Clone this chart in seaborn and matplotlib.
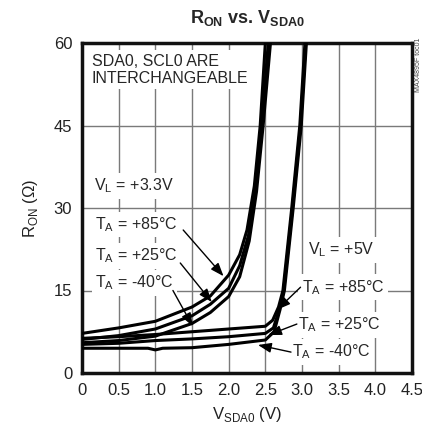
import matplotlib
matplotlib.use('Agg')
import matplotlib.pyplot as plt
import seaborn as sns
import pandas as pd

sns.set_style('white')
plt.rcParams['font.family'] = ['Liberation Sans', 'DejaVu Sans']
plt.rcParams['mathtext.fontset'] = 'custom'
plt.rcParams['mathtext.rm'] = 'Liberation Sans'
plt.rcParams['mathtext.bf'] = 'Liberation Sans:bold'

# VL = +3.3V curves
v33_85 = [0, 0.5, 1.0, 1.5, 1.75, 2.0, 2.15, 2.25, 2.35, 2.43, 2.5]
r33_85 = [7.2, 8.2, 9.4, 12.0, 14.0, 17.8, 21.5, 26, 34, 45, 60]
v33_25 = [0, 0.5, 1.0, 1.5, 1.75, 2.0, 2.15, 2.27, 2.36, 2.45, 2.54]
r33_25 = [6.1, 6.8, 8.0, 10.4, 12.5, 15.4, 19.5, 25, 33, 45, 60]
v33_m40 = [0, 0.5, 1.0, 1.5, 1.75, 2.0, 2.15, 2.28, 2.38, 2.47, 2.57]
r33_m40 = [5.5, 5.9, 6.7, 9.0, 11.0, 13.9, 17.5, 24, 33, 45, 60]

# VL = +5V curves
v5_85 = [0, 0.5, 1.0, 1.5, 2.0, 2.5, 2.6, 2.68, 2.74, 2.86, 2.97, 3.04]
r5_85 = [6.3, 6.6, 7.0, 7.5, 8.0, 8.5, 9.6, 12, 15, 30, 45, 60]
v5_25 = [0, 0.5, 1.0, 1.5, 2.0, 2.5, 2.61, 2.69, 2.75, 2.87, 2.98, 3.05]
r5_25 = [5.2, 5.4, 5.9, 6.2, 6.6, 7.2, 8.2, 11.5, 15, 30, 45, 60]
v5_m40 = [0, 0.5, 0.9, 1.0, 1.1, 1.5, 2.0, 2.5, 2.62, 2.7, 2.76, 2.88, 2.99, 3.06]
r5_m40 = [4.5, 4.5, 4.5, 4.2, 4.5, 4.6, 5.2, 6.0, 7.5, 11.5, 15, 30, 45, 60]

curves = {
    '3.3V 85C': (v33_85, r33_85),
    '3.3V 25C': (v33_25, r33_25),
    '3.3V -40C': (v33_m40, r33_m40),
    '5V 85C': (v5_85, r5_85),
    '5V 25C': (v5_25, r5_25),
    '5V -40C': (v5_m40, r5_m40),
}
rows = []
for name, (vs, rs) in curves.items():
    for v, r in zip(vs, rs):
        rows.append({'v': v, 'r': r, 'curve': name})
df = pd.DataFrame(rows)

x_ticks = [0, 0.5, 1.0, 1.5, 2.0, 2.5, 3.0, 3.5, 4.0, 4.5]
x_labels = ['0', '0.5', '1.0', '1.5', '2.0', '2.5', '3.0', '3.5', '4.0', '4.5']
y_ticks = [0, 15, 30, 45, 60]

fig = plt.figure(figsize=(4.22, 4.34), dpi=100)
ax = fig.add_axes([82 / 422, 61 / 434, 330 / 422, 330 / 434])

for xt in x_ticks[1:-1]:
    ax.axvline(xt, color='#7a7a7a', lw=1.0, zorder=0)
for yt in y_ticks[1:-1]:
    ax.axhline(yt, color='#7a7a7a', lw=1.0, zorder=0)

sns.lineplot(data=df, x='v', y='r', units='curve', estimator=None, sort=False,
             color='black', lw=2.2, ax=ax, zorder=3)

ax.set_xlim(0, 4.5)
ax.set_ylim(0, 60)
ax.set_xticks(x_ticks)
ax.set_xticklabels(x_labels)
ax.set_yticks(y_ticks)
ax.tick_params(length=0, labelsize=12, pad=7, colors='#222222')
for s in ax.spines.values():
    s.set_linewidth(2.5)
    s.set_color('#111111')

ax.set_xlabel(r'V$_{\mathrm{SDA0}}$ (V)', fontsize=12, labelpad=5, color='#222222')
ax.set_ylabel(r'R$_{\mathrm{ON}}$ ($\Omega$)', fontsize=12, labelpad=10, color='#222222')
fig.text(247 / 422, 1 - 18 / 434, r'$\mathbf{R_{ON}}$ vs. $\mathbf{V_{SDA0}}$',
         ha='center', va='center', fontsize=13, fontweight='bold')
fig.text(418 / 422, 1 - 65 / 434, 'MAX4895F toc01', rotation=90, fontsize=5,
         ha='center', va='center', color='#444444')

box = dict(facecolor='white', edgecolor='none', pad=2.5)
ax.text(0.13, 58, 'SDA0, SCL0 ARE\nINTERCHANGEABLE', fontsize=11.5, va='top',
        linespacing=1.15, bbox=box, zorder=4)

# label text, position, arrow start, arrow tip
labels = [
    ('V$_\\mathrm{L}$ = +3.3V', 0.16, 34.0, None, None),
    ('T$_\\mathrm{A}$ = +85°C', 0.18, 27.0, (1.38, 26.0), (1.93, 17.6)),
    ('T$_\\mathrm{A}$ = +25°C', 0.18, 21.3, (1.34, 20.0), (1.77, 12.9)),
    ('T$_\\mathrm{A}$ = -40°C', 0.18, 16.4, (1.24, 15.0), (1.51, 8.5)),
    ('V$_\\mathrm{L}$ = +5V', 3.08, 22.4, None, None),
    ('T$_\\mathrm{A}$ = +85°C', 3.0, 15.6, (2.98, 15.6), (2.66, 11.5)),
    ('T$_\\mathrm{A}$ = +25°C', 2.95, 8.7, (2.93, 8.9), (2.54, 6.9)),
    ('T$_\\mathrm{A}$ = -40°C', 2.87, 3.8, (2.85, 3.8), (2.40, 5.1)),
]
for txt, x, y, start, tip in labels:
    ax.text(x, y, txt, fontsize=11.5, va='center', ha='left', bbox=box, zorder=4)
    if tip is not None:
        ax.annotate('', xy=tip, xytext=start, zorder=5,
                    arrowprops=dict(arrowstyle='-|>,head_length=0.8,head_width=0.3',
                                    color='black', lw=1.0, shrinkA=0, shrinkB=0))

fig.savefig('out.png', dpi=100)
